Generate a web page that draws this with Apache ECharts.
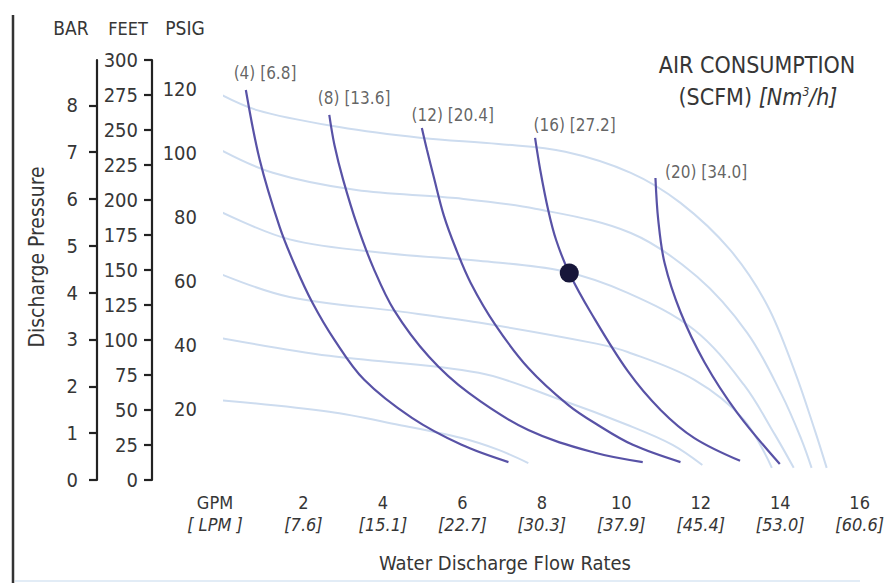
<!DOCTYPE html>
<html>
<head>
<meta charset="utf-8">
<script src="https://cdn.jsdelivr.net/npm/echarts@6/dist/echarts.min.js"></script>
<style>
html,body{margin:0;padding:0;background:#fff;}
#chart{width:887px;height:583px;}
</style>
</head>
<body>
<div id="chart"></div>
<script>
// ---- tick labels ----
const gpmTicks = [0, 2, 4, 6, 8, 10, 12, 14, 16];
const gpmLabels = ['GPM', '2', '4', '6', '8', '10', '12', '14', '16'];
const lpmLabels = ['[ LPM ]', '[7.6]', '[15.1]', '[22.7]', '[30.3]', '[37.9]', '[45.4]', '[53.0]', '[60.6]'];
const psiTicks = [20, 40, 60, 80, 100, 120];
const feetTicks = [0, 25, 50, 75, 100, 125, 150, 175, 200, 225, 250, 275, 300];
const barTicks = [0, 1, 2, 3, 4, 5, 6, 7, 8];

// ---- air inlet pressure curves (light) : [GPM, PSIG] ----
const inlet120 = [[-0.30,119.7],[0.83,113.4],[2.90,108.1],[4.98,104.7],[6.91,102.8],[8.59,100.4],[10.24,93.8],[11.49,84.4],[12.74,69.7],[13.67,52.5],[14.37,31.6],[14.87,13.4],[15.17,1.6]];
const inlet100 = [[-0.18,101.6],[1.23,93.8],[3.33,88.4],[5.83,85.9],[7.83,82.6],[10.24,75.0],[11.91,61.3],[13.17,43.8],[14.04,24.4],[14.54,10.3],[14.79,1.6]];
const inlet80  = [[-0.18,82.2],[1.65,73.0],[4.16,68.6],[6.41,66.3],[8.49,63.2],[10.16,56.3],[11.84,44.7],[13.09,27.5],[13.87,11.9],[14.34,1.6]];
const inlet60  = [[-0.15,62.5],[1.65,55.0],[4.41,50.5],[6.41,47.0],[9.34,40.5],[10.16,37.8],[11.84,29.1],[13.09,16.6],[13.79,1.6]];
const inlet40  = [[-0.23,42.5],[2.65,36.6],[6.41,31.3],[8.49,22.8],[10.16,15.0],[11.29,8.8],[12.04,2.5]];
const inlet20  = [[-0.15,22.8],[2.65,19.1],[4.41,15.0],[5.98,10.9],[6.91,7.2],[7.66,3.1]];

// ---- air consumption curves (dark) : [GPM, PSIG] ----
const air4  = [[0.55,119.7],[0.90,97.8],[1.40,76.9],[1.78,65.0],[2.23,53.1],[2.78,41.6],[3.53,29.1],[4.73,17.2],[5.98,8.8],[7.16,3.4]];
const air8  = [[2.65,111.9],[2.78,102.5],[3.00,91.6],[3.35,77.5],[3.76,64.1],[4.28,50.9],[5.16,36.3],[6.16,25.0],[7.66,13.4],[9.34,6.3],[10.54,3.4]];
const air12 = [[4.98,107.8],[5.11,100.9],[5.28,92.5],[5.53,80.6],[5.83,70.3],[6.21,59.4],[6.83,46.3],[7.66,32.8],[8.66,21.3],[9.41,15.0],[10.29,8.8],[11.49,3.4]];
const air16 = [[7.83,104.7],[7.96,94.7],[8.16,82.2],[8.36,72.8],[8.69,62.5],[9.24,50.0],[10.16,31.9],[10.99,19.7],[11.84,10.9],[12.99,3.8]];
const air20 = [[10.86,92.2],[10.93,79.1],[11.09,65.6],[11.49,50.3],[12.09,34.7],[12.92,18.8],[13.99,2.8]];

const airNames = ['(4) [6.8]', '(8) [13.6]', '(12) [20.4]', '(16) [27.2]', '(20) [34.0]'];
const airLabelAt = [[0.23,125.0],[2.35,117.2],[4.71,111.9],[7.78,108.75],[11.09,94.1]];
const opPoint = [8.69, 62.5];

const FT_PER_BAR = 33.455;

const FONT = "'Liberation Sans Narrow','DejaVu Sans Condensed','Arial Narrow',sans-serif";
const TXT = '#363636';
const DARK = '#5852a6';
const LIGHT = '#cddcef';

const chart = echarts.init(document.getElementById('chart'), null, {renderer: 'svg'});

const lightSeries = [inlet120, inlet100, inlet80, inlet60, inlet40, inlet20].map(d => ({
  type: 'line', data: d, smooth: 0.35, showSymbol: false, clip: false, silent: true, z: 1,
  lineStyle: {color: LIGHT, width: 2}
}));
const darkSeries = [air4, air8, air12, air16, air20].map(d => ({
  type: 'line', data: d, smooth: 0.35, showSymbol: false, clip: false, silent: true, z: 3,
  lineStyle: {color: DARK, width: 2.2}
}));

const XF = 18;
const XLH = 22;
const option = {
  animation: false,
  textStyle: {fontFamily: FONT},
  grid: {left: 224, right: 24, top: 60, bottom: 103},
  xAxis: {
    type: 'value', min: 0, max: 16, interval: 2,
    axisLine: {show: false}, axisTick: {show: false}, splitLine: {show: false},
    axisLabel: {
      margin: 11,
      formatter: function (v) {
        const i = gpmTicks.indexOf(v);
        if (i < 0) return '';
        const s = i === 0 ? '0' : '';
        return '{a' + s + '|' + gpmLabels[i] + '}\n{b' + s + '|' + lpmLabels[i] + '}';
      },
      rich: {
        a: {fontSize: XF, color: TXT, fontFamily: FONT, lineHeight: XLH},
        b: {fontSize: XF, color: TXT, fontFamily: FONT, fontStyle: 'italic', lineHeight: XLH},
        a0: {fontSize: XF, color: TXT, fontFamily: FONT, lineHeight: XLH, padding: [0, 18, 0, 0]},
        b0: {fontSize: XF, color: TXT, fontFamily: FONT, fontStyle: 'italic', lineHeight: XLH, padding: [0, 18, 0, 0]}
      }
    }
  },
  yAxis: [
    { // PSIG (data axis)
      type: 'value', position: 'left', min: -2.2, max: 129.06,
      axisLine: {show: false}, axisTick: {show: false}, splitLine: {show: false},
      axisLabel: {customValues: psiTicks, margin: 27, fontSize: 20, color: TXT, fontFamily: FONT}
    },
    { // FEET
      type: 'value', position: 'left', offset: 72, min: 0, max: 300, interval: 25,
      axisLine: {show: true, lineStyle: {color: '#222', width: 2.2}},
      axisTick: {show: true, length: 8, lineStyle: {color: '#222', width: 2.2}},
      splitLine: {show: false},
      axisLabel: {margin: 14, fontSize: 20, color: TXT, fontFamily: FONT}
    },
    { // BAR
      type: 'value', position: 'left', offset: 127, min: 0, max: 300 / FT_PER_BAR,
      axisLine: {show: true, lineStyle: {color: '#222', width: 2.2}},
      axisTick: {show: true, length: 8, customValues: barTicks, lineStyle: {color: '#222', width: 2.2}},
      splitLine: {show: false},
      axisLabel: {customValues: barTicks, margin: 19, fontSize: 20, color: TXT, fontFamily: FONT}
    }
  ],
  series: lightSeries.concat(darkSeries).concat([
    {
      type: 'scatter', data: [opPoint], symbolSize: 19, z: 5, silent: true,
      itemStyle: {color: '#17163a', opacity: 1}
    },
    {
      type: 'scatter', z: 6, silent: true, symbolSize: 1,
      data: airLabelAt.map((p, i) => ({name: airNames[i], value: p})),
      itemStyle: {color: 'rgba(0,0,0,0)'},
      label: {show: true, position: 'right', distance: 0, formatter: '{b}', fontSize: 17, color: '#3c3c3c', fontFamily: FONT}
    }
  ]),
  graphic: [
    {type: 'line', shape: {x1: 13, y1: 15, x2: 13, y2: 583}, style: {stroke: '#333', lineWidth: 2.5}},
    {type: 'line', shape: {x1: 15, y1: 581, x2: 860, y2: 581}, style: {stroke: '#e2ecf6', lineWidth: 2}},
    {type: 'text', x: 71, y: 28, style: {text: 'BAR', font: '19px ' + FONT, fill: TXT, textAlign: 'center', textVerticalAlign: 'middle'}},
    {type: 'text', x: 128, y: 28, style: {text: 'FEET', font: '18px ' + FONT, fill: TXT, textAlign: 'center', textVerticalAlign: 'middle'}},
    {type: 'text', x: 185, y: 28, style: {text: 'PSIG', font: '19px ' + FONT, fill: TXT, textAlign: 'center', textVerticalAlign: 'middle'}},
    {type: 'text', x: 37, y: 257, rotation: Math.PI / 2, style: {text: 'Discharge Pressure', font: '21px ' + FONT, fill: TXT, textAlign: 'center', textVerticalAlign: 'middle'}},
    {type: 'text', x: 505, y: 563, style: {text: 'Water Discharge Flow Rates', font: '20px ' + FONT, fill: TXT, textAlign: 'center', textVerticalAlign: 'middle'}},
    {type: 'text', x: 757, y: 65, style: {text: 'AIR CONSUMPTION', font: '23px ' + FONT, fill: TXT, textAlign: 'center', textVerticalAlign: 'middle'}},
    {type: 'text', x: 758, y: 97, style: {
      text: '{n|(SCFM)}  {i|[Nm}{s|3}{i|/h]}', textAlign: 'center', textVerticalAlign: 'middle',
      rich: {
        n: {fontSize: 23, fontFamily: FONT, fill: TXT},
        i: {fontSize: 23, fontFamily: FONT, fill: TXT, fontStyle: 'italic'},
        s: {fontSize: 12, fontFamily: FONT, fill: TXT, fontStyle: 'italic', verticalAlign: 'top', padding: [0, 0, 10, 0]}
      }
    }}
  ]
};
chart.setOption(option);
</script>
</body>
</html>
